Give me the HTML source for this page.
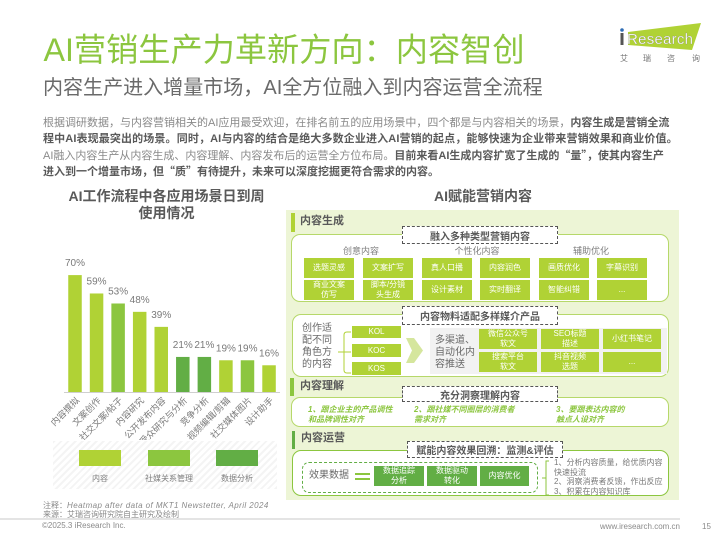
<!DOCTYPE html>
<html lang="zh-CN">
<head>
<meta charset="utf-8">
<title>AI营销生产力革新方向：内容智创</title>
<style>
html,body{margin:0;padding:0;background:#fff}
#page{position:relative;width:720px;height:540px;overflow:hidden;background:#fff;font-family:"Liberation Sans","Noto Sans CJK SC",sans-serif;color:#666}
#page div,#page span.a{position:absolute;white-space:nowrap;box-sizing:border-box}
.btn{display:flex;align-items:center;justify-content:center;text-align:center;color:#fff;font-size:8px;line-height:10px;background:#b0d235}
.btn.dk{background:#62ae45}
.sec{font-size:11px;font-weight:bold;color:#595959;line-height:14px;height:14px}
.wrap{background:#fff;border:1px solid #b6d86a;border-radius:9px}
.dash{background:#fff;border:1px dashed #555;display:flex;align-items:center;justify-content:center;font-size:10px;font-weight:bold;color:#595959}
.sub{font-size:9px;color:#7f7f7f;line-height:12px;height:12px;text-align:center}
.ital{font-size:8px;font-style:italic;font-weight:bold;color:#8cc63f;line-height:9.5px}
b{font-weight:bold;color:#595959}
.q{font-family:"Noto Sans CJK SC",sans-serif}
</style>
</head>
<body>
<div id="page">

<div style="left:43.5px;top:30px;font-size:32.2px;line-height:40px;color:#8cc63f">AI营销生产力革新方向：内容智创</div>
<div style="left:43px;top:75px;font-size:20.05px;line-height:26px;color:#6a6a6a">内容生产进入增量市场，AI全方位融入到内容运营全流程</div>

<svg style="position:absolute;left:612px;top:18px" width="100" height="50" viewBox="612 18 100 50">
  <polygon points="628,32 701,23 692,50 628,45" fill="#b0d235"/>
  <circle cx="622" cy="30" r="1.8" fill="#2f6db5"/>
  <rect x="620.5" y="33" width="3" height="12" fill="#555"/>
  <text x="627" y="44" font-size="15" fill="#fff" stroke="#777" stroke-width="0.2" textLength="66" font-family="Liberation Sans, sans-serif">Research</text>
  <text x="620" y="61" font-size="8" fill="#777">艾</text>
  <text x="643" y="61" font-size="8" fill="#777">瑞</text>
  <text x="667" y="61" font-size="8" fill="#777">咨</text>
  <text x="692" y="61" font-size="8" fill="#777">询</text>
</svg>

<div style="left:43px;top:115px;font-size:11px;line-height:16px;color:#8a8a8a">根据调研数据，与内容营销相关的AI应用最受欢迎，在排名前五的应用场景中，四个都是与内容相关的场景，<b>内容生成是营销全流</b></div>
<div style="left:43px;top:131px;font-size:11px;line-height:16px;letter-spacing:.13px"><b>程中AI表现最突出的场景。同时，AI与内容的结合是绝大多数企业进入AI营销的起点，能够快速为企业带来营销效果和商业价值。</b></div>
<div style="left:43px;top:147px;font-size:11px;line-height:16px;color:#8a8a8a">AI融入内容生产从内容生成、内容理解、内容发布后的运营全方位布局。<b>目前来看AI生成内容扩宽了生成的<span class="q">“</span>量<span class="q">”</span>，使其内容生产</b></div>
<div style="left:43px;top:163px;font-size:11px;line-height:16px"><b>进入到一个增量市场，但<span class="q">“</span>质<span class="q">”</span>有待提升，未来可以深度挖掘更符合需求的内容。</b></div>

<div style="left:36.5px;width:260px;top:188px;font-size:14px;font-weight:bold;line-height:17px;color:#595959;text-align:center">AI工作流程中各应用场景日到周<br>使用情况</div>
<div style="left:383px;width:200px;top:188px;font-size:14px;font-weight:bold;line-height:17px;color:#595959;text-align:center">AI赋能营销内容</div>

<svg id="chart" style="position:absolute;left:0;top:0" width="290" height="440"></svg>

<div style="left:53px;top:441px;width:224px;height:48px;background:repeating-linear-gradient(135deg,#f4f4f4 0 2px,#fff 2px 5px)"></div>
<div style="left:79px;top:450px;width:42px;height:16px;background:#b0d235"></div>
<div style="left:148px;top:450px;width:42px;height:16px;background:#8cc63f"></div>
<div style="left:216px;top:450px;width:42px;height:16px;background:#62ae45"></div>
<div class="sub" style="left:70px;width:60px;top:473px;font-size:8px">内容</div>
<div class="sub" style="left:139px;width:60px;top:473px;font-size:8px">社媒关系管理</div>
<div class="sub" style="left:207px;width:60px;top:473px;font-size:8px">数据分析</div>

<div style="left:43px;top:501px;font-size:8px;line-height:10px;color:#8a8a8a">注释：<i style="letter-spacing:.42px">Heatmap after data of MKT1 Newstetter, April 2024</i></div>
<div style="left:43px;top:510px;font-size:8px;line-height:10px;color:#8a8a8a">来源：艾瑞咨询研究院自主研究及绘制</div>
<div style="left:0;top:518px;width:680px;height:2px;background:#e4e4e4"></div>
<div style="left:42px;top:521px;font-size:8px;line-height:10px;color:#8a8a8a">©2025.3 iResearch Inc.</div>
<div style="left:560px;width:120px;text-align:right;top:522px;font-size:8px;line-height:10px;color:#8a8a8a">www.iresearch.com.cn</div>
<div style="left:702px;top:522px;font-size:8px;line-height:10px;color:#8a8a8a">15</div>

<div style="left:286px;top:210px;width:393px;height:290px;background:#edf5d6"></div>

<!-- Section 1 -->
<div style="left:291px;top:213px;width:4px;height:19px;background:#b0d235"></div>
<div class="sec" style="left:300px;top:214px">内容生成</div>
<div class="wrap" style="left:291px;top:234px;width:378px;height:68px"></div>
<div class="dash" style="left:402px;top:226px;width:156px;height:18px">融入多种类型营销内容</div>
<div class="sub" style="left:321px;width:80px;top:245px">创意内容</div>
<div class="sub" style="left:437px;width:80px;top:245px">个性化内容</div>
<div class="sub" style="left:551px;width:80px;top:245px">辅助优化</div>

<div class="btn" style="left:304px;top:258px;width:50px;height:20px">选题灵感</div>
<div class="btn" style="left:363px;top:258px;width:50px;height:20px">文案扩写</div>
<div class="btn" style="left:422px;top:258px;width:50px;height:20px">真人口播</div>
<div class="btn" style="left:480px;top:258px;width:50px;height:20px">内容润色</div>
<div class="btn" style="left:539px;top:258px;width:50px;height:20px">画质优化</div>
<div class="btn" style="left:597px;top:258px;width:50px;height:20px">字幕识别</div>
<div class="btn" style="left:304px;top:280px;width:50px;height:20px">商业文案<br>仿写</div>
<div class="btn" style="left:363px;top:280px;width:50px;height:20px">脚本/分镜<br>头生成</div>
<div class="btn" style="left:422px;top:280px;width:50px;height:20px">设计素材</div>
<div class="btn" style="left:480px;top:280px;width:50px;height:20px">实时翻译</div>
<div class="btn" style="left:539px;top:280px;width:50px;height:20px">智能纠错</div>
<div class="btn" style="left:597px;top:280px;width:50px;height:20px">...</div>

<!-- Media adaptation -->
<div class="wrap" style="left:292px;top:314px;width:377px;height:63px"></div>
<div class="dash" style="left:402px;top:306px;width:156px;height:19px">内容物料适配多样媒介产品</div>
<div style="left:302px;top:323px;font-size:10px;line-height:12px;color:#6a6a6a">创作适<br>配不同<br>角色方<br>的内容</div>

<svg style="position:absolute;left:336px;top:328px" width="18" height="48" viewBox="336 328 18 48">
  <path d="M351 332H347Q344 332 344 335V370Q344 373 347 373H351M338 352H351" fill="none" stroke="#b0d235" stroke-width="1"/>
</svg>
<div class="btn" style="left:352px;top:326px;width:49px;height:12px">KOL</div>
<div class="btn" style="left:352px;top:344px;width:49px;height:13px">KOC</div>
<div class="btn" style="left:352px;top:362px;width:49px;height:13px">KOS</div>
<svg style="position:absolute;left:405px;top:337px" width="20" height="28" viewBox="405 337 20 28">
  <polygon points="406,338 414,338 423,350.5 414,363 406,363 412,350.5" fill="#d5e69d"/>
</svg>
<div style="left:430px;top:328px;width:237px;height:46px;background:#f2f2f2"></div>
<div style="left:435px;top:335px;font-size:10px;line-height:12px;color:#6a6a6a">多渠道、<br>自动化内<br>容推送</div>
<div class="btn" style="left:479px;top:329px;width:58px;height:20px">微信公众号<br>软文</div>
<div class="btn" style="left:541px;top:329px;width:58px;height:20px">SEO标题<br>描述</div>
<div class="btn" style="left:603px;top:329px;width:58px;height:20px">小红书笔记</div>
<div class="btn" style="left:479px;top:352px;width:58px;height:20px">搜索平台<br>软文</div>
<div class="btn" style="left:541px;top:352px;width:58px;height:20px">抖音视频<br>选题</div>
<div class="btn" style="left:603px;top:352px;width:58px;height:20px">...</div>

<!-- Section 2 -->
<div style="left:290px;top:378px;width:4px;height:18px;background:#8cc63f"></div>
<div class="sec" style="left:300px;top:379px">内容理解</div>
<div class="wrap" style="left:291px;top:397px;width:378px;height:30px"></div>
<div class="dash" style="left:402px;top:386px;width:156px;height:16px">充分洞察理解内容</div>
<div class="ital" style="left:308px;top:405px">1、跟企业主的产品调性<br>和品牌调性对齐</div>
<div class="ital" style="left:414px;top:405px">2、跟社媒不同圈层的消费者<br>需求对齐</div>
<div class="ital" style="left:556px;top:405px">3、要跟表达内容的<br>触点人设对齐</div>

<!-- Section 3 -->
<div style="left:292px;top:431px;width:3px;height:18px;background:#62ae45"></div>
<div class="sec" style="left:301px;top:431px">内容运营</div>
<div class="wrap" style="left:292px;top:450px;width:377px;height:46px;border-color:#8cc63f"></div>
<div class="dash" style="left:407px;top:441px;width:156px;height:17px">赋能内容效果回溯：监测&amp;评估</div>
<div style="left:302px;top:462px;width:236px;height:31px;border:1px dashed #62ae45;border-radius:7px"></div>
<div style="left:309px;top:470px;font-size:10px;line-height:12px;color:#6a6a6a">效果数据</div>
<div style="left:355px;top:473px;width:15px;height:2px;background:#8cc63f"></div>
<div style="left:355px;top:478px;width:15px;height:2px;background:#8cc63f"></div>
<div class="btn dk" style="left:374px;top:466px;width:50px;height:20px">数据追踪<br>分析</div>
<div class="btn dk" style="left:427px;top:466px;width:50px;height:20px">数据驱动<br>转化</div>
<div class="btn dk" style="left:480px;top:466px;width:49px;height:20px">内容优化</div>
<svg style="position:absolute;left:540px;top:459px" width="12" height="38" viewBox="540 459 12 38">
  <path d="M549 461H546V495H549M542 478H546" fill="none" stroke="#8cc63f" stroke-width="1"/>
</svg>
<div style="left:554px;top:458px;font-size:8px;line-height:9.7px;color:#7a7a7a">1、分析内容质量，给优质内容<br>快速投流<br>2、洞察消费者反馈，作出反应<br>3、积累在内容知识库</div>

</div>

<script>
const categories = ['内容撰拟','文案创作','社交文案/帖子','内容研究','公开发布内容','受众研究与分析','竞争分析','视频编辑/剪辑','社交媒体图片','设计助手'];
const seriesValues = [70,59,53,48,39,21,21,19,19,16];
const seriesGroups = ['content','content','social','content','content','data','data','content','social','content'];
const groupColors = {content:'#b0d235',social:'#8cc63f',data:'#62ae45'};

const svg = document.getElementById('chart');
const NS = 'http://www.w3.org/2000/svg';
const baseY = 392;
const pxPerUnit = 1.67;
const firstCenter = 75;
const step = 21.56;
const barWidth = 13.5;
function xScale(i){ return firstCenter + i * step; }
function yScale(v){ return baseY - v * pxPerUnit; }

categories.forEach(function(cat, i){
  const v = seriesValues[i];
  const rect = document.createElementNS(NS, 'rect');
  
  
  rect.setAttribute('x', xScale(i) - barWidth / 2);
  rect.setAttribute('y', yScale(v));
  rect.setAttribute('width', barWidth);
  rect.setAttribute('height', baseY - yScale(v));
  rect.setAttribute('fill', groupColors[seriesGroups[i]]);
  svg.appendChild(rect);

  const val = document.createElementNS(NS, 'text');
  
  
  val.setAttribute('x', xScale(i));
  val.setAttribute('y', yScale(v) - 9);
  val.setAttribute('text-anchor', 'middle');
  val.setAttribute('font-size', '10');
  val.setAttribute('fill', '#7a7a7a');
  val.textContent = v + '%';
  svg.appendChild(val);

  const lab = document.createElementNS(NS, 'text');
  
  
  const lx = xScale(i) + 5;
  const ly = baseY + 9;
  lab.setAttribute('x', lx);
  lab.setAttribute('y', ly);
  lab.setAttribute('text-anchor', 'end');
  lab.setAttribute('transform', 'rotate(-45 ' + lx + ' ' + ly + ')');
  lab.setAttribute('font-size', '9');
  lab.setAttribute('fill', '#7a7a7a');
  lab.textContent = cat;
  svg.appendChild(lab);
});

const axis = document.createElementNS(NS, 'line');


axis.setAttribute('x1', 64);
axis.setAttribute('x2', 280);
axis.setAttribute('y1', baseY + 0.5);
axis.setAttribute('y2', baseY + 0.5);
axis.setAttribute('stroke', '#cfcfcf');
axis.setAttribute('stroke-width', '1');
svg.appendChild(axis);
</script>
</body>
</html>
